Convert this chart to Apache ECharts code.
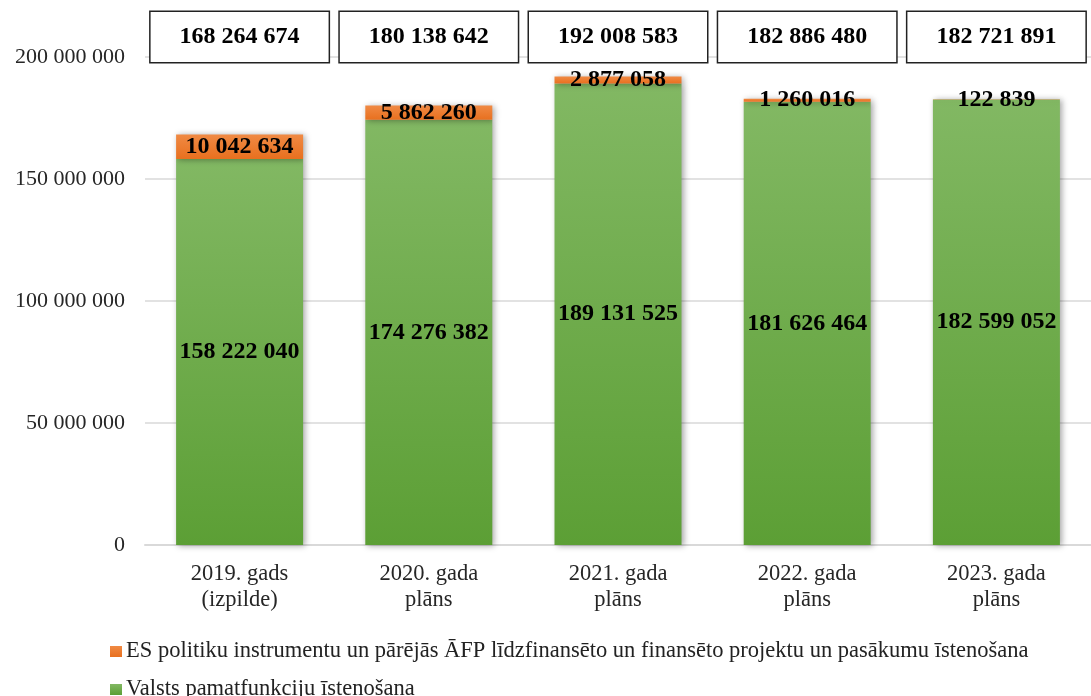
<!DOCTYPE html>
<html>
<head>
<meta charset="utf-8">
<script src="https://cdn.jsdelivr.net/npm/echarts@6/dist/echarts.min.js"></script>
<style>
  html, body { margin: 0; padding: 0; background: #fff; }
  #chart { width: 1091px; height: 696px; }
</style>
</head>
<body>
<div id="chart"></div>
<script>
const categories = [
  '2019. gads\n(izpilde)',
  '2020. gada\nplāns',
  '2021. gada\nplāns',
  '2022. gada\nplāns',
  '2023. gada\nplāns'
]
const coreValues = [158222040, 174276382, 189131525, 181626464, 182599052]
const euValues = [10042634, 5862260, 2877058, 1260016, 122839]
const yTicks = [0, 50000000, 100000000, 150000000, 200000000]

const coreName = 'Valsts pamatfunkciju īstenošana'
const euName = 'ES politiku instrumentu un pārējās ĀFP līdzfinansēto un finansēto projektu un pasākumu īstenošana'

// skaitļi ar atstarpēm starp tūkstošiem
function fmt(v) {
  return String(v).replace(/\B(?=(\d{3})+(?!\d))/g, ' ')
}

const totals = coreValues.map((v, i) => fmt(v + euValues[i]))

const font = 'Liberation Serif, Times New Roman, serif'
const chart = echarts.init(document.getElementById('chart'))

const option = {
  animation: false,
  textStyle: { fontFamily: font },
  grid: { left: 145, top: 57, width: 955, bottom: 151 },
  legend: {
    orient: 'vertical',
    left: 105,
    top: 635,
    height: 120,
    itemGap: 15,
    itemWidth: 12,
    itemHeight: 11,
    icon: 'rect',
    data: [euName, coreName],
    textStyle: { fontFamily: font, fontSize: 22.5, color: '#222', padding: [0, 0, 0, -1] }
  },
  xAxis: [
    {
      type: 'category',
      data: categories,
      axisLine: { lineStyle: { color: '#d9d9d9', width: 2 } },
      axisTick: { show: false },
      axisLabel: { fontFamily: font, fontSize: 22.5, color: '#262626', lineHeight: 26, margin: 16 }
    },
    {
      type: 'category',
      position: 'top',
      data: totals,
      axisLine: { show: false },
      axisTick: { show: false },
      axisLabel: {
        fontFamily: font,
        fontSize: 24,
        fontWeight: 'bold',
        color: '#000',
        lineHeight: 26,
        margin: -5,
        width: 178,
        align: 'center',
        backgroundColor: '#fff',
        borderColor: '#222',
        borderWidth: 1.5,
        padding: [12, 0]
      }
    }
  ],
  yAxis: {
    type: 'value',
    min: yTicks[0],
    max: yTicks[yTicks.length - 1],
    interval: yTicks[1] - yTicks[0],
    axisLine: { show: false },
    axisTick: { show: false },
    splitLine: { lineStyle: { color: '#d9d9d9', width: 1.5 } },
    axisLabel: { fontFamily: font, fontSize: 22, color: '#262626', margin: 20, formatter: (v) => fmt(v) }
  },
  series: [
    {
      name: coreName,
      type: 'bar',
      stack: 'total',
      barWidth: 127,
      data: coreValues,
      itemStyle: {
        color: new echarts.graphic.LinearGradient(0, 0, 0, 1, [
          { offset: 0, color: '#82b863' },
          { offset: 1, color: '#5c9f35' }
        ]),
        shadowBlur: 6,
        shadowOffsetX: 2,
        shadowOffsetY: 1,
        shadowColor: 'rgba(0,0,0,0.35)'
      },
      label: {
        show: true,
        position: 'inside',
        fontFamily: font,
        fontSize: 24,
        fontWeight: 'bold',
        color: '#000',
        formatter: (p) => fmt(p.value)
      }
    },
    {
      name: euName,
      type: 'bar',
      stack: 'total',
      barWidth: 127,
      data: euValues,
      itemStyle: {
        color: new echarts.graphic.LinearGradient(0, 0, 0, 1, [
          { offset: 0, color: '#f08a44' },
          { offset: 1, color: '#e8701f' }
        ]),
        shadowBlur: 6,
        shadowOffsetX: 2,
        shadowOffsetY: 1,
        shadowColor: 'rgba(0,0,0,0.35)'
      },
      label: {
        show: true,
        position: 'inside',
        fontFamily: font,
        fontSize: 24,
        fontWeight: 'bold',
        color: '#000',
        formatter: (p) => fmt(p.value)
      }
    }
  ]
}
chart.setOption(option)
</script>
</body>
</html>
